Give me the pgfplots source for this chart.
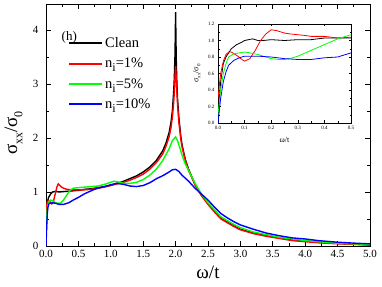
\documentclass[border=0pt]{standalone}
\usepackage{fontspec}
\setmainfont{Liberation Serif}
\usepackage{pgfplots}
\pgfplotsset{compat=1.18}
\definecolor{cgreen}{RGB}{0,255,0}
\definecolor{cblue}{RGB}{0,0,255}
\definecolor{cred}{RGB}{255,0,0}
\newcommand{\sub}[1]{\raisebox{-0.28em}{\fontsize{12}{12}\selectfont #1}}
\newcommand{\isub}[1]{\raisebox{-0.25em}{\fontsize{5}{5}\selectfont #1}}
\begin{document}
\begin{tikzpicture}
\useasboundingbox (-46pt,-40pt) rectangle (336pt,246pt);
\begin{axis}[
  at={(0pt,0pt)}, anchor=south west,
  scale only axis, width=324pt, height=242pt,
  xmin=0, xmax=5, ymin=0, ymax=4.48,
  xtick={0,0.5,...,5}, ytick={0,1,2,3,4},
  minor x tick num=1, minor y tick num=1,
  tick align=inside, major tick length=5pt, minor tick length=3pt,
  axis line style={line width=0.9pt}, every tick/.style={line width=0.7pt, black},
  /pgf/number format/assume math mode=true,
  ticklabel style={font=\fontsize{11}{12}\selectfont},
  xticklabel style={yshift=-1pt, /pgf/number format/.cd, fixed, fixed zerofill, precision=1},
  yticklabel style={xshift=-4pt, /pgf/number format/.cd, fixed, precision=0},
  xlabel={ω/t}, ylabel={σ\sub{xx}/σ\sub{0}},
  xlabel style={font=\fontsize{19}{20}\selectfont, at={(axis description cs:0.5,-0.107)}, anchor=center},
  ylabel style={font=\fontsize{19}{20}\selectfont, at={(axis description cs:-0.10,0.467)}, anchor=center},
  legend cell align=left,
  legend style={at={(axis description cs:0.068,0.87)}, anchor=north west, draw=none, fill=none,
    font=\fontsize{14.5}{15}\selectfont, row sep=5pt, inner sep=0pt},
  legend image code/.code={\draw[#1] plot coordinates {(0pt,0pt) (33pt,0pt)};},
  legend image post style={line width=2pt},
  clip=true,
]
\addplot[black, line width=1.4pt] coordinates {
(0,0) (0.005,0.35) (0.01,0.6) (0.02,0.8) (0.04,0.9) (0.07,0.96) (0.1,1.0) (0.15,1.01) (0.2,1.0) (0.3,1.01) (0.4,1.02) (0.5,1.03) (0.6,1.05) (0.7,1.06) (0.8,1.08) (0.9,1.1) (1.0,1.13) (1.1,1.16) (1.2,1.2) (1.3,1.25) (1.4,1.3) (1.5,1.37) (1.6,1.46) (1.7,1.58) (1.8,1.76) (1.85,1.9) (1.9,2.1) (1.93,2.3) (1.95,2.5) (1.97,2.85) (1.98,3.1) (1.99,3.5) (1.995,3.85) (2.0,4.33) (2.005,3.85) (2.01,3.45) (2.02,3.0) (2.03,2.72) (2.05,2.38) (2.08,2.03) (2.1,1.87) (2.15,1.6) (2.2,1.42) (2.3,1.14) (2.4,0.94) (2.5,0.78) (2.6,0.64) (2.7,0.51) (2.8,0.44) (2.9,0.37) (3.0,0.31) (3.2,0.24) (3.4,0.19) (3.6,0.15) (3.8,0.11) (4.0,0.09) (4.2,0.07) (4.5,0.05) (5.0,0.02)
};
\addlegendentry{Clean}
\addplot[cred, line width=1.4pt] coordinates {
(0,0.45) (0.01,0.75) (0.02,0.82) (0.04,0.84) (0.06,0.82) (0.09,0.78) (0.11,0.8) (0.14,0.95) (0.17,1.1) (0.19,1.15) (0.23,1.1) (0.27,1.07) (0.32,1.05) (0.4,1.04) (0.5,1.04) (0.6,1.04) (0.7,1.05) (0.8,1.07) (0.9,1.09) (1.0,1.12) (1.1,1.15) (1.2,1.18) (1.3,1.22) (1.4,1.27) (1.5,1.33) (1.6,1.42) (1.7,1.54) (1.8,1.7) (1.85,1.84) (1.9,2.02) (1.93,2.2) (1.95,2.38) (1.97,2.65) (1.98,2.85) (1.99,3.1) (2.0,3.33) (2.01,3.1) (2.02,2.85) (2.03,2.62) (2.05,2.3) (2.08,1.98) (2.1,1.83) (2.15,1.58) (2.2,1.4) (2.3,1.13) (2.4,0.93) (2.5,0.77) (2.6,0.63) (2.7,0.5) (2.8,0.43) (2.9,0.36) (3.0,0.3) (3.2,0.23) (3.4,0.18) (3.6,0.14) (3.8,0.1) (4.0,0.08) (4.2,0.06) (4.5,0.04) (5.0,0.02)
};
\addlegendentry{n\sub{i}=1\%}
\addplot[cgreen, line width=1.4pt] coordinates {
(0,0.1) (0.01,0.5) (0.02,0.7) (0.04,0.82) (0.07,0.85) (0.1,0.84) (0.15,0.8) (0.22,0.79) (0.27,0.85) (0.32,0.94) (0.37,1.03) (0.42,1.07) (0.5,1.08) (0.6,1.09) (0.7,1.1) (0.8,1.11) (0.9,1.14) (1.0,1.18) (1.05,1.2) (1.1,1.19) (1.2,1.16) (1.3,1.16) (1.4,1.18) (1.5,1.23) (1.6,1.31) (1.7,1.42) (1.8,1.58) (1.9,1.8) (1.95,1.95) (2.0,2.02) (2.03,1.95) (2.07,1.8) (2.1,1.68) (2.15,1.52) (2.2,1.4) (2.3,1.16) (2.4,0.96) (2.5,0.8) (2.6,0.67) (2.7,0.54) (2.8,0.47) (2.9,0.4) (3.0,0.34) (3.2,0.26) (3.4,0.21) (3.6,0.16) (3.8,0.13) (4.0,0.1) (4.2,0.08) (4.5,0.05) (5.0,0.03)
};
\addlegendentry{n\sub{i}=5\%}
\addplot[cblue, line width=1.4pt] coordinates {
(0,0) (0.01,0.35) (0.02,0.6) (0.03,0.72) (0.05,0.79) (0.1,0.8) (0.15,0.79) (0.2,0.77) (0.27,0.77) (0.35,0.8) (0.42,0.85) (0.5,0.9) (0.6,0.97) (0.73,1.04) (0.8,1.07) (0.9,1.1) (1.0,1.13) (1.09,1.16) (1.2,1.14) (1.3,1.11) (1.4,1.1) (1.5,1.12) (1.6,1.17) (1.71,1.25) (1.8,1.3) (1.9,1.37) (1.95,1.41) (2.0,1.42) (2.05,1.38) (2.1,1.31) (2.2,1.2) (2.3,1.07) (2.4,0.96) (2.5,0.85) (2.6,0.72) (2.7,0.6) (2.8,0.52) (2.9,0.45) (3.0,0.39) (3.2,0.31) (3.4,0.24) (3.6,0.19) (3.8,0.15) (4.0,0.13) (4.2,0.1) (4.5,0.07) (4.8,0.05) (5.0,0.04)
};
\addlegendentry{n\sub{i}=10\%}
\node[font=\fontsize{13}{14}\selectfont, anchor=center] at (axis cs:0.36,3.86) {(h)};
\end{axis}
\begin{axis}[
  at={(172pt,123pt)}, anchor=south west,
  scale only axis, width=133pt, height=99pt,
  xmin=0, xmax=0.5, ymin=0, ymax=1.2,
  xtick={0,0.1,...,0.5}, ytick={0,0.2,...,1.2},
  minor x tick num=1, minor y tick num=1,
  tick align=inside, major tick length=2.5pt, minor tick length=1.5pt,
  axis line style={line width=0.5pt}, every tick/.style={line width=0.4pt, black},
  /pgf/number format/assume math mode=true,
  ticklabel style={font=\fontsize{5}{6}\selectfont},
  xticklabel style={/pgf/number format/.cd, fixed, fixed zerofill, precision=1},
  yticklabel style={/pgf/number format/.cd, fixed, fixed zerofill, precision=1},
  xlabel={ω/t}, ylabel={σ\isub{xx}/σ\isub{0}},
  xlabel style={font=\fontsize{8}{9}\selectfont, at={(axis description cs:0.5,-0.17)}, anchor=center},
  ylabel style={font=\fontsize{8}{9}\selectfont, at={(axis description cs:-0.16,0.5)}, anchor=center},
]
\addplot[black, line width=0.8pt] coordinates {
(0,0) (0.005,0.3) (0.01,0.5) (0.02,0.72) (0.03,0.8) (0.05,0.9) (0.07,0.95) (0.09,0.98) (0.1,1.0) (0.13,1.02) (0.15,1.0) (0.17,1.0) (0.2,1.01) (0.25,1.0) (0.3,1.01) (0.35,1.01) (0.4,1.03) (0.45,1.03) (0.5,1.03)
};
\addplot[cred, line width=0.8pt] coordinates {
(0,0.3) (0.01,0.6) (0.02,0.75) (0.03,0.83) (0.04,0.86) (0.05,0.86) (0.07,0.82) (0.09,0.77) (0.1,0.75) (0.12,0.78) (0.14,0.88) (0.16,1.0) (0.18,1.08) (0.2,1.13) (0.22,1.12) (0.25,1.09) (0.27,1.08) (0.3,1.07) (0.33,1.06) (0.35,1.05) (0.4,1.05) (0.45,1.03) (0.5,1.04)
};
\addplot[cgreen, line width=0.8pt] coordinates {
(0,0.1) (0.01,0.4) (0.02,0.6) (0.03,0.72) (0.04,0.8) (0.06,0.84) (0.08,0.85) (0.1,0.86) (0.12,0.85) (0.15,0.83) (0.2,0.78) (0.23,0.77) (0.25,0.77) (0.28,0.79) (0.3,0.81) (0.35,0.88) (0.4,0.95) (0.45,1.02) (0.5,1.07)
};
\addplot[cblue, line width=0.8pt] coordinates {
(0,0) (0.01,0.3) (0.02,0.5) (0.03,0.62) (0.04,0.7) (0.06,0.76) (0.08,0.79) (0.1,0.81) (0.15,0.81) (0.2,0.8) (0.25,0.78) (0.3,0.77) (0.35,0.77) (0.4,0.79) (0.45,0.8) (0.5,0.85)
};
\end{axis}
\end{tikzpicture}
\end{document}
